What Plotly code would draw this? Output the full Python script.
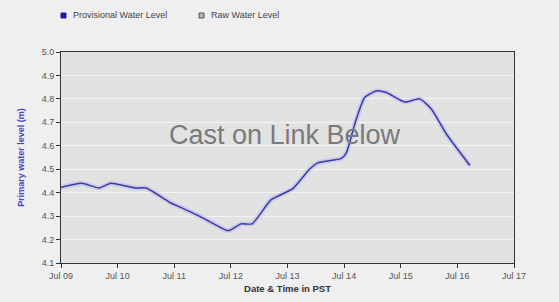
import pandas as pd
import plotly.graph_objects as go

# Data (days since Jul 09 00:00, water level in m)
day_offsets = [0.0, 0.366, 0.673, 0.879, 1.322, 1.504, 1.942, 2.088, 2.442, 2.915,
               2.986, 3.18, 3.375, 3.712, 4.094, 4.389, 4.536, 4.95, 5.039, 5.204,
               5.363, 5.57, 5.747, 6.071, 6.336, 6.543, 6.809, 7.221]
levels = [4.423, 4.44, 4.42, 4.44, 4.42, 4.42, 4.356, 4.34, 4.30, 4.24,
          4.24, 4.267, 4.267, 4.37, 4.417, 4.50, 4.527, 4.546, 4.57, 4.706,
          4.806, 4.834, 4.827, 4.787, 4.80, 4.756, 4.649, 4.516]
start_date = "2013-07-09"
end_date = "2013-07-17"
y_ticks = [4.1, 4.2, 4.3, 4.4, 4.5, 4.6, 4.7, 4.8, 4.9, 5.0]
series_names = ["Provisional Water Level", "Raw Water Level"]
legend_colors = ["#1c1c9c", "#b8b8a8"]
watermark = "Cast on Link Below"

times = pd.Timestamp(start_date) + pd.to_timedelta(day_offsets, unit="D")
day_ticks = pd.date_range(start_date, end_date, freq="D")

FONT = "Liberation Sans, Arial, sans-serif"
LINE = "#3b3aa6"
W, H = 559, 302
L, R, T, B = 61, 45, 52, 39
PW, PH = W - L - R, H - T - B

def px(xp):
    return (xp - L) / PW

def py(yp):
    return (H - B - yp) / PH

fig = go.Figure()
fig.add_trace(go.Scatter(x=times, y=levels, mode="lines", showlegend=False,
                         hoverinfo="skip",
                         line=dict(color="rgba(160,160,240,0.35)", width=5,
                                   shape="spline", smoothing=0.5)))
fig.add_trace(go.Scatter(x=times, y=levels, mode="lines", showlegend=False,
                         name=series_names[0],
                         line=dict(color=LINE, width=1.5, shape="spline", smoothing=0.5)))

# manual legend (square swatches + labels) above the plot
legend_x = [61, 199]
for name, col, lx in zip(series_names, legend_colors, legend_x):
    fig.add_shape(type="rect", xref="paper", yref="paper",
                  x0=px(lx), x1=px(lx + 5), y0=py(18), y1=py(13),
                  fillcolor=col,
                  line=dict(color=col if col == legend_colors[0] else "#555555", width=1))
    fig.add_annotation(text=name, xref="paper", yref="paper", x=px(lx + 10), y=py(15.5),
                       xanchor="left", yanchor="middle", showarrow=False,
                       font=dict(family=FONT, size=9, color="#444444"))

fig.add_annotation(text=watermark, xref="paper", yref="paper", x=px(285), y=py(135),
                   showarrow=False, font=dict(family=FONT, size=27, color="#7a7a7a"))

fig.update_layout(
    width=W, height=H,
    margin=dict(l=L, r=R, t=T, b=B, autoexpand=False),
    paper_bgcolor="#efefef",
    plot_bgcolor="#e2e2e2",
    font=dict(family=FONT, size=9, color="#555555"),
    showlegend=False,
    xaxis=dict(range=[day_ticks[0], day_ticks[-1]], tickvals=day_ticks,
               tickformat="%b %d", ticks="outside", ticklen=4, tickcolor="#333333",
               showgrid=False, showline=True, linecolor="#333333", linewidth=1,
               mirror=True, zeroline=False, automargin=False,
               tickfont=dict(size=9, color="#555555"),
               title=dict(text="<b>Date & Time in PST</b>", standoff=5,
                          font=dict(size=9.5, color="#333333"))),
    yaxis=dict(range=[4.1, 5.0], tickvals=y_ticks, tickformat=".1f",
               ticks="outside", ticklen=4, tickcolor="#333333",
               showgrid=True, gridcolor="#f4f4f4", gridwidth=1,
               showline=True, linecolor="#333333", linewidth=1, mirror=True,
               zeroline=False, automargin=False,
               tickfont=dict(size=9, color="#555555"),
               title=dict(text="<b>Primary water level (m)</b>", standoff=15,
                          font=dict(size=9, color="#4a44c8"))),
)

fig.write_html("out.html",
               config={"displayModeBar": False},
               post_script="document.body.style.margin='0';"
                           "document.body.style.background='#efefef';")
